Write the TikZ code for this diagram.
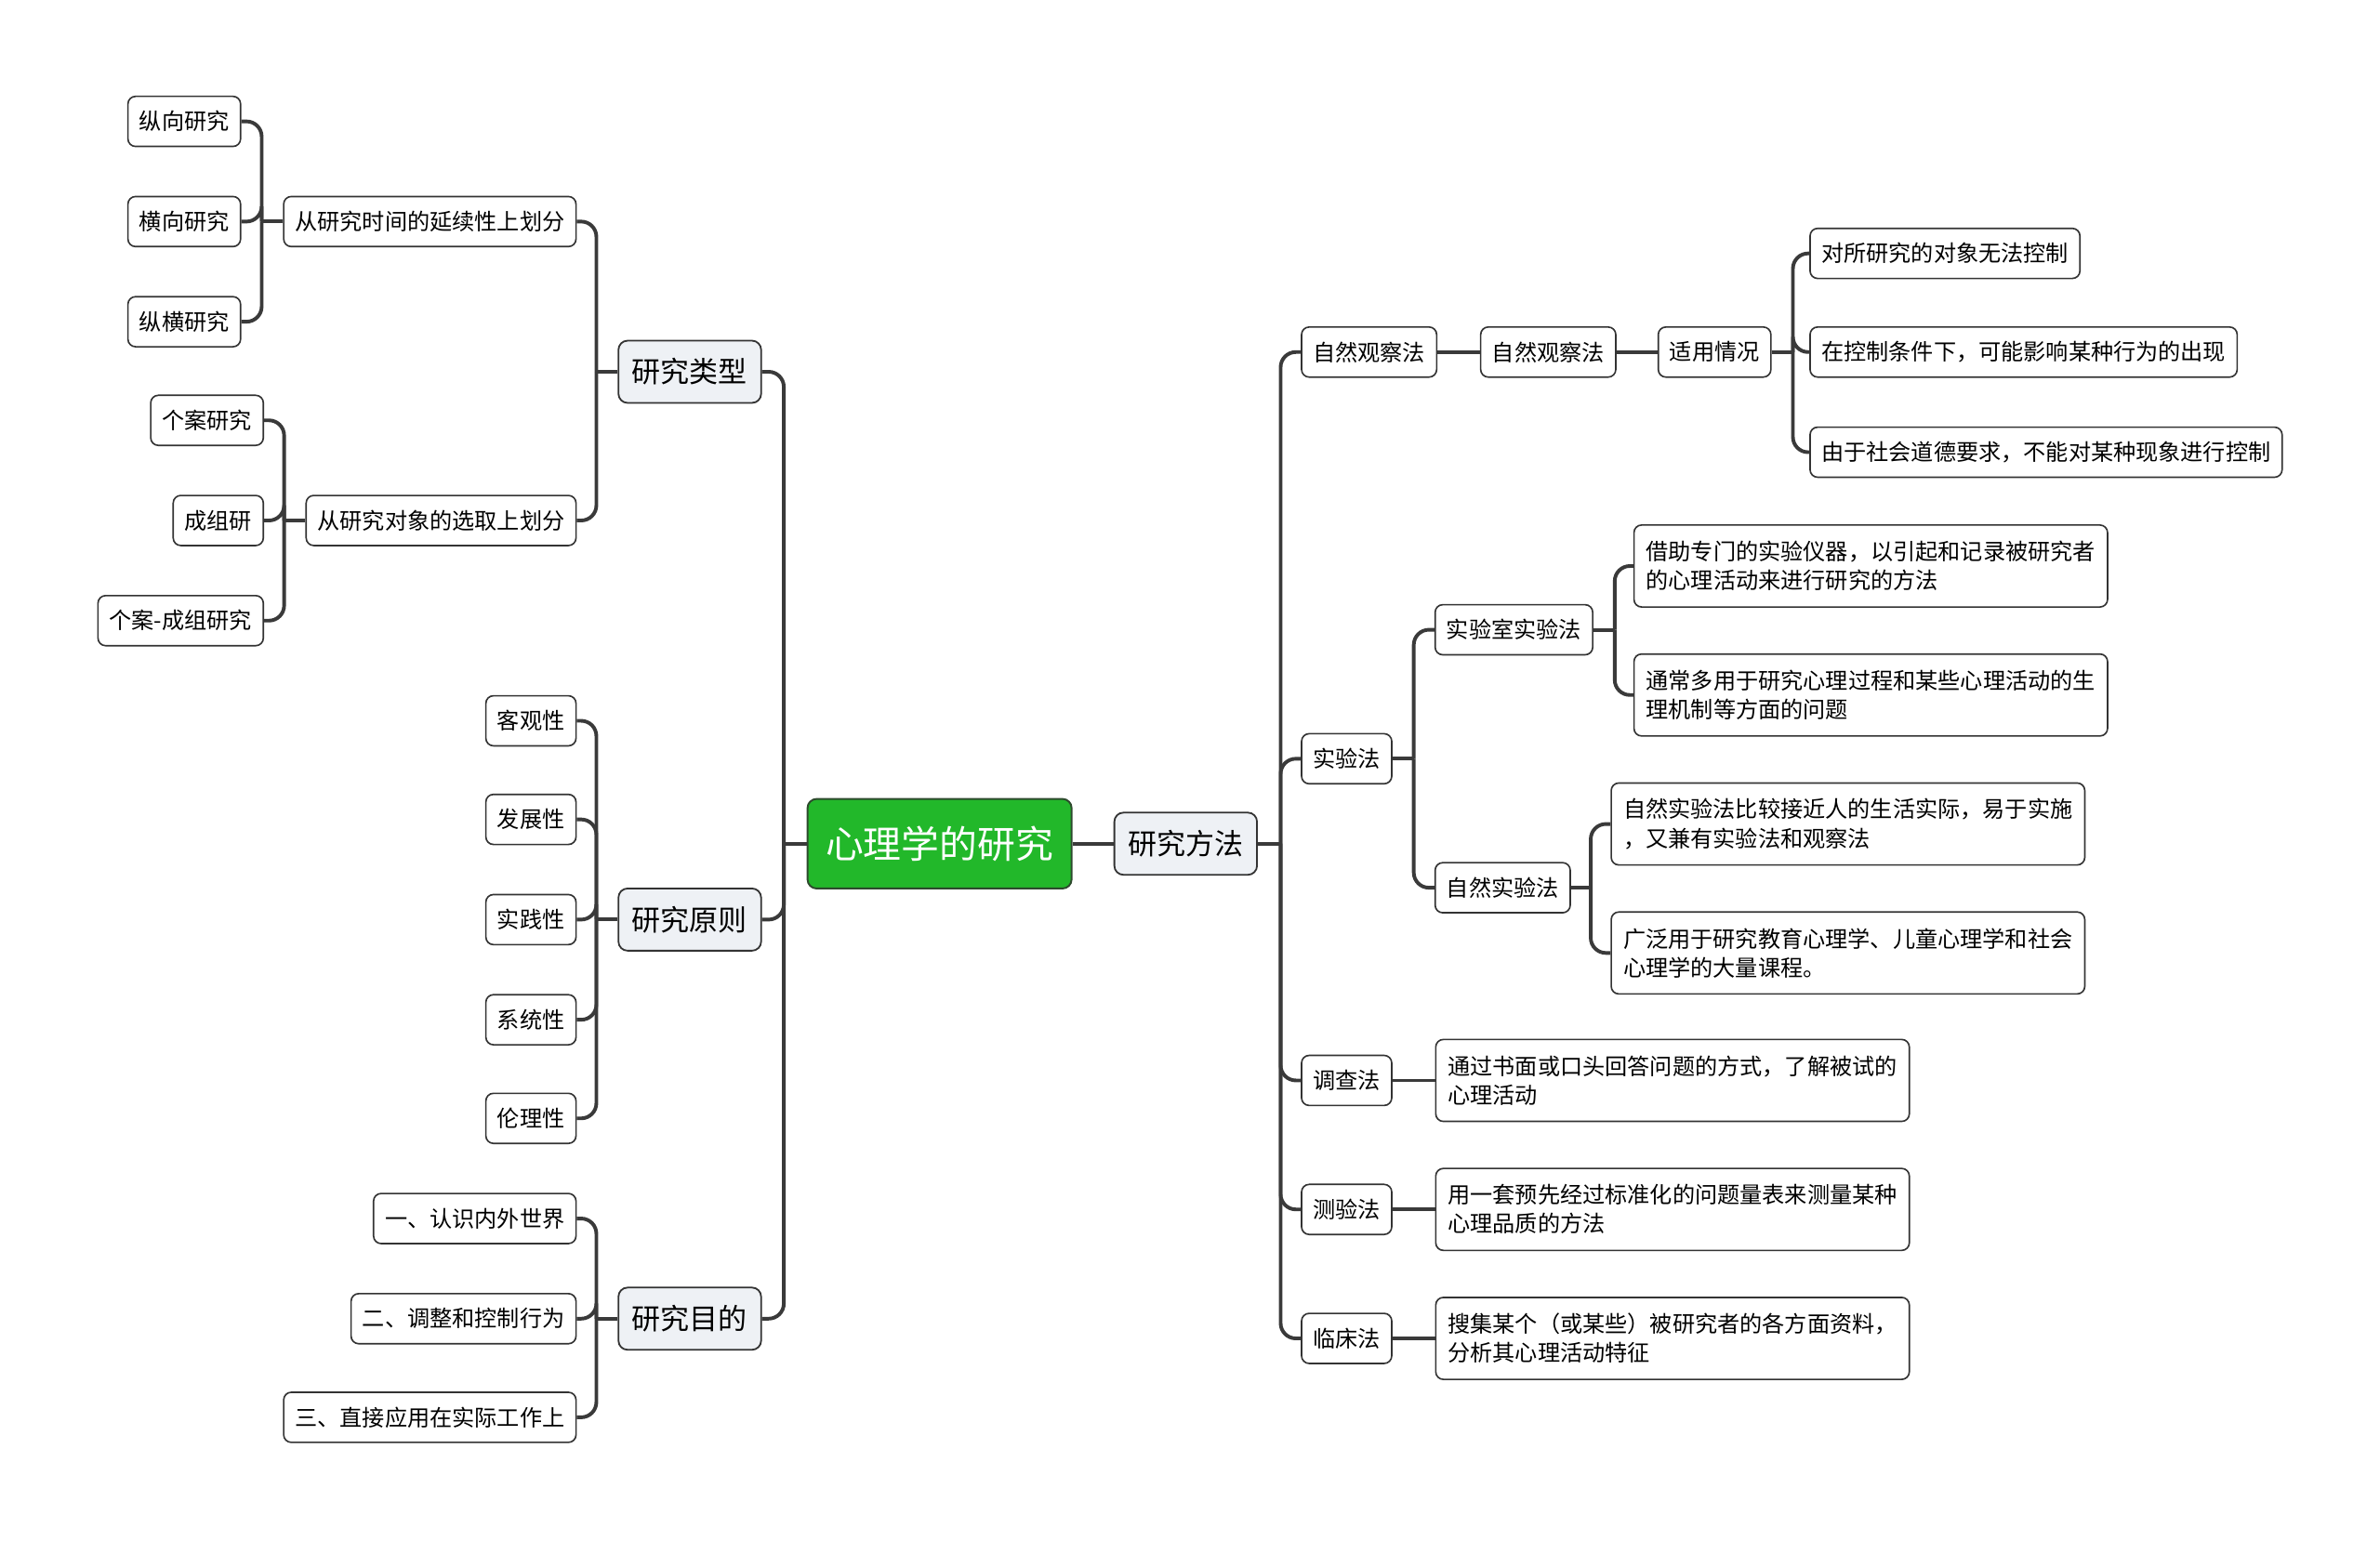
\documentclass[tikz,border=0pt]{standalone}
\usepackage{fontspec}
\setmainfont{Noto Sans CJK SC}
\usetikzlibrary{positioning,calc}
\definecolor{rootgreen}{HTML}{22B82A}
\definecolor{rootedge}{HTML}{2D4A2D}
\definecolor{topicfill}{HTML}{EEF1F5}
\definecolor{linegrey}{HTML}{3A3A3A}
\definecolor{edgegrey}{HTML}{333333}

\begin{document}
\begin{tikzpicture}[
  x=1pt, y=-1pt,
  node distance=27pt,
  rootbox/.style={rectangle, rounded corners=6pt, draw=rootedge, line width=1.2pt, fill=rootgreen,
    text=white, font=\fontsize{25}{30}\selectfont, minimum height=59pt, inner xsep=12pt},
  topicbox/.style={rectangle, rounded corners=6pt, draw=edgegrey, line width=1.1pt, fill=topicfill,
    font=\fontsize{19}{23}\selectfont, minimum height=41pt, inner xsep=9pt},
  leafbox/.style={rectangle, rounded corners=5pt, draw=edgegrey, line width=1pt, fill=white,
    font=\fontsize{14.8}{19}\selectfont, minimum height=33pt, inner xsep=7.5pt},
  notebox/.style={leafbox, align=left, minimum height=54pt, minimum width=312pt},
  link/.style={draw=linegrey, line width=2.4pt, rounded corners=10pt}
]
\useasboundingbox (0,0) rectangle (1568,1015);

% Central topic and the method branch
\node[rootbox] (root) at (619,556) {心理学的研究};
\node[topicbox, right=27pt of root] (method) {研究方法};
\draw[link] (root) -- (method);

% Left main branches
\node[topicbox, anchor=east] (types) at (502,245) {研究类型};
\node[topicbox, anchor=east] (principles) at (502,606) {研究原则};
\node[topicbox, anchor=east] (goals) at (502,869) {研究目的};
\coordinate (rootbus) at ($(root.west)+(-15,0)$);
\draw[link] (root.west) -- (rootbus);
\draw[link] (rootbus) |- (types.east);
\draw[link] (rootbus) |- (principles.east);
\draw[link] (rootbus) |- (goals.east);

% Research types
\node[leafbox, anchor=east] (bytime) at (380,146) {从研究时间的延续性上划分};
\node[leafbox, anchor=east] (bysubject) at (380,343) {从研究对象的选取上划分};
\coordinate (typesbus) at ($(types.west)+(-14,0)$);
\draw[link] (types.west) -- (typesbus);
\draw[link] (typesbus) |- (bytime.east);
\draw[link] (typesbus) |- (bysubject.east);

\node[leafbox, anchor=east] (longit) at (159,80) {纵向研究};
\node[leafbox, anchor=east] (cross) at (159,146) {横向研究};
\node[leafbox, anchor=east] (mixed) at (159,212) {纵横研究};
\coordinate (timebus) at ($(bytime.west)+(-14,0)$);
\draw[link] (bytime.west) -- (timebus);
\draw[link] (timebus) |- (longit.east);
\draw[link] (timebus) |- (cross.east);
\draw[link] (timebus) |- (mixed.east);

\node[leafbox, anchor=east] (casest) at (174,277) {个案研究};
\node[leafbox, anchor=east] (groupst) at (174,343) {成组研};
\node[leafbox, anchor=east] (casegroup) at (174,409) {个案-成组研究};
\coordinate (subjectbus) at ($(bysubject.west)+(-14,0)$);
\draw[link] (bysubject.west) -- (subjectbus);
\draw[link] (subjectbus) |- (casest.east);
\draw[link] (subjectbus) |- (groupst.east);
\draw[link] (subjectbus) |- (casegroup.east);

% Research principles
\node[leafbox, anchor=east] (objective) at (380,475) {客观性};
\node[leafbox, anchor=east] (develop) at (380,540) {发展性};
\node[leafbox, anchor=east] (practice) at (380,606) {实践性};
\node[leafbox, anchor=east] (system) at (380,672) {系统性};
\node[leafbox, anchor=east] (ethics) at (380,737) {伦理性};
\coordinate (princbus) at ($(principles.west)+(-14,0)$);
\draw[link] (principles.west) -- (princbus);
\draw[link] (princbus) |- (objective.east);
\draw[link] (princbus) |- (develop.east);
\draw[link] (princbus) |- (practice.east);
\draw[link] (princbus) |- (system.east);
\draw[link] (princbus) |- (ethics.east);

% Research goals
\node[leafbox, anchor=east] (goalone) at (380,803) {一、认识内外世界};
\node[leafbox, anchor=east] (goaltwo) at (380,869) {二、调整和控制行为};
\node[leafbox, anchor=east] (goalthree) at (380,934) {三、直接应用在实际工作上};
\coordinate (goalsbus) at ($(goals.west)+(-14,0)$);
\draw[link] (goals.west) -- (goalsbus);
\draw[link] (goalsbus) |- (goalone.east);
\draw[link] (goalsbus) |- (goaltwo.east);
\draw[link] (goalsbus) |- (goalthree.east);

% Methods (right side)
\node[leafbox, anchor=west] (natobs) at (857,232) {自然观察法};
\node[leafbox, anchor=west] (exper) at (857,500) {实验法};
\node[leafbox, anchor=west] (survey) at (857,712) {调查法};
\node[leafbox, anchor=west] (testm) at (857,797) {测验法};
\node[leafbox, anchor=west] (clinic) at (857,882) {临床法};
\coordinate (methodbus) at ($(method.east)+(15,0)$);
\draw[link] (method.east) -- (methodbus);
\draw[link] (methodbus) |- (natobs.west);
\draw[link] (methodbus) |- (exper.west);
\draw[link] (methodbus) |- (survey.west);
\draw[link] (methodbus) |- (testm.west);
\draw[link] (methodbus) |- (clinic.west);

% Natural observation
\node[leafbox, right=28pt of natobs] (natobsin) {自然观察法};
\node[leafbox, right=27pt of natobsin] (usecase) {适用情况};
\draw[link] (natobs) -- (natobsin);
\draw[link] (natobsin) -- (usecase);
\node[leafbox, anchor=west] (useone) at (1192,167) {对所研究的对象无法控制};
\node[leafbox, anchor=west] (usetwo) at (1192,232) {在控制条件下，可能影响某种行为的出现};
\node[leafbox, anchor=west] (usethree) at (1192,298) {由于社会道德要求，不能对某种现象进行控制};
\coordinate (usebus) at ($(usecase.east)+(14,0)$);
\draw[link] (usecase.east) -- (usebus);
\draw[link] (usebus) |- (useone.west);
\draw[link] (usebus) |- (usetwo.west);
\draw[link] (usebus) |- (usethree.west);

% Experiments
\node[leafbox, anchor=west] (labexp) at (945,415) {实验室实验法};
\node[leafbox, anchor=west] (natexp) at (945,585) {自然实验法};
\coordinate (experbus) at ($(exper.east)+(14,0)$);
\draw[link] (exper.east) -- (experbus);
\draw[link] (experbus) |- (labexp.west);
\draw[link] (experbus) |- (natexp.west);

\node[notebox, anchor=west] (labone) at (1076,373) {借助专门的实验仪器，以引起和记录被研究者\\的心理活动来进行研究的方法};
\node[notebox, anchor=west] (labtwo) at (1076,458) {通常多用于研究心理过程和某些心理活动的生\\理机制等方面的问题};
\coordinate (labbus) at ($(labexp.east)+(14,0)$);
\draw[link] (labexp.east) -- (labbus);
\draw[link] (labbus) |- (labone.west);
\draw[link] (labbus) |- (labtwo.west);

\node[notebox, anchor=west] (natone) at (1061,543) {自然实验法比较接近人的生活实际，易于实施\\，又兼有实验法和观察法};
\node[notebox, anchor=west] (nattwo) at (1061,628) {广泛用于研究教育心理学、儿童心理学和社会\\心理学的大量课程。};
\coordinate (natbus) at ($(natexp.east)+(13,0)$);
\draw[link] (natexp.east) -- (natbus);
\draw[link] (natbus) |- (natone.west);
\draw[link] (natbus) |- (nattwo.west);

% Survey, test and clinical methods
\node[notebox, right=28pt of survey] (surveynote) {通过书面或口头回答问题的方式，了解被试的\\心理活动};
\node[notebox, right=28pt of testm] (testnote) {用一套预先经过标准化的问题量表来测量某种\\心理品质的方法};
\node[notebox, right=28pt of clinic] (clinicnote) {搜集某个（或某些）被研究者的各方面资料，\\分析其心理活动特征};
\draw[link] (survey) -- (surveynote);
\draw[link] (testm) -- (testnote);
\draw[link] (clinic) -- (clinicnote);

\end{tikzpicture}
\end{document}
